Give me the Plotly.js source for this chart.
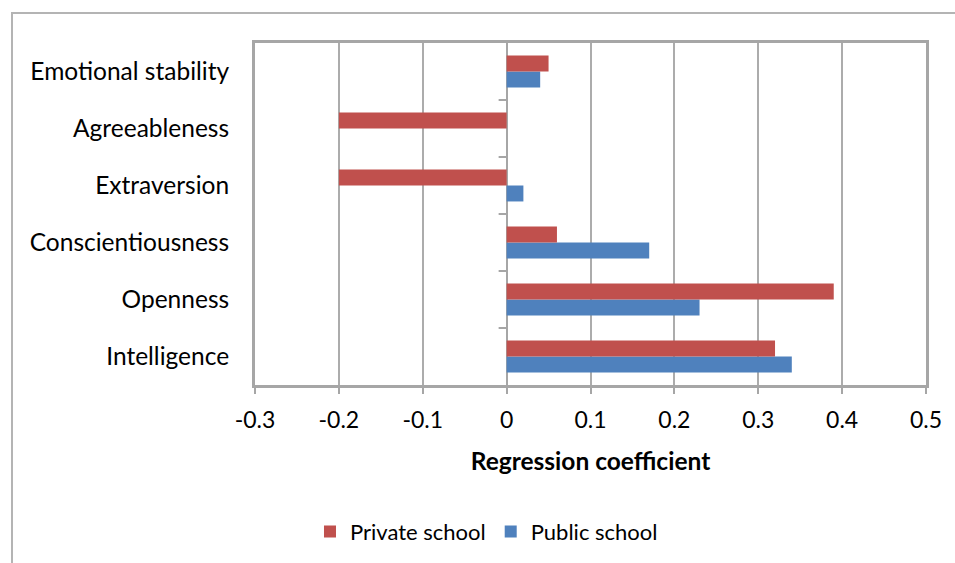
<!DOCTYPE html>
<html>
<head>
<meta charset="utf-8">
<script src="https://cdn.plot.ly/plotly-3.0.1.min.js"></script>
<style>
  html, body { margin: 0; padding: 0; background: #fff; }
  #wrap { position: relative; width: 955px; height: 563px; overflow: hidden; }
  #chart { position: absolute; left: 0; top: 0; width: 955px; height: 563px; }
  #frame { position: absolute; left: 11px; top: 12px; width: 960px; height: 600px;
           border-top: 2px solid #B4B4B4; border-left: 2px solid #B4B4B4; pointer-events: none; }
</style>
</head>
<body>
<div id="wrap">
  <div id="chart"></div>
  <div id="frame"></div>
</div>
<script>
const categories = ["Intelligence", "Openness", "Conscientiousness", "Extraversion", "Agreeableness", "Emotional stability"];
const privateSchool = [0.32, 0.39, 0.06, -0.2, -0.2, 0.05];
const publicSchool = [0.34, 0.23, 0.17, 0.02, 0, 0.04];
const xTicks = [-0.3, -0.2, -0.1, 0, 0.1, 0.2, 0.3, 0.4, 0.5];
const xTickLabels = ["-0.3", "-0.2", "-0.1", "0", "0.1", "0.2", "0.3", "0.4", "0.5"];

const font = "Lato, 'Noto Sans', sans-serif";

const traces = [
  {
    type: "bar", orientation: "h", name: "Public school",
    y: categories, x: publicSchool,
    marker: { color: "#4F81BD", line: { width: 0 } }
  },
  {
    type: "bar", orientation: "h", name: "Private school",
    y: categories, x: privateSchool,
    marker: { color: "#C0504D", line: { width: 0 } }
  }
];

// small tick marks at category boundaries on the zero line
const shapes = [];
for (let i = 0; i < categories.length - 1; i++) {
  shapes.push({
    type: "line", xref: "x", yref: "y", xsizemode: "pixel", xanchor: 0,
    x0: -8, x1: 0, y0: i + 0.5, y1: i + 0.5,
    line: { color: "#A6A6A6", width: 2 }
  });
}

const layout = {
  width: 955, height: 563,
  margin: { l: 255, r: 29, t: 43, b: 177 },
  paper_bgcolor: "#ffffff", plot_bgcolor: "#ffffff",
  font: { family: font, size: 23, color: "#000000" },
  barmode: "group", bargap: 0.44, bargroupgap: 0,
  showlegend: true,
  legend: {
    orientation: "h", traceorder: "reversed",
    x: 0.345, xanchor: "center", y: -0.425, yanchor: "middle",
    font: { family: font, size: 22 }
  },
  xaxis: {
    range: [-0.3, 0.5],
    tickvals: xTicks, ticktext: xTickLabels,
    showgrid: true, gridcolor: "#ACACAC", gridwidth: 2,
    zeroline: true, zerolinecolor: "#A6A6A6", zerolinewidth: 2,
    showline: true, mirror: true, linecolor: "#A6A6A6", linewidth: 3,
    ticks: "outside", ticklen: 6, tickwidth: 2, tickcolor: "#A6A6A6",
    ticklabelstandoff: 6,
    tickfont: { family: font, size: 23 },
    title: { text: "<b>Regression coefficient</b>", font: { family: font, size: 24.5 }, standoff: 22 },
    fixedrange: true
  },
  yaxis: {
    type: "category",
    categoryorder: "array", categoryarray: categories,
    range: [-0.5, categories.length - 0.5],
    showgrid: false, zeroline: false,
    showline: true, mirror: true, linecolor: "#A6A6A6", linewidth: 3,
    ticks: "", ticklabelstandoff: 18,
    tickfont: { family: font, size: 24.5 },
    fixedrange: true
  },
  shapes: shapes
};

Plotly.newPlot("chart", traces, layout, { displayModeBar: false, staticPlot: true });
</script>
</body>
</html>
